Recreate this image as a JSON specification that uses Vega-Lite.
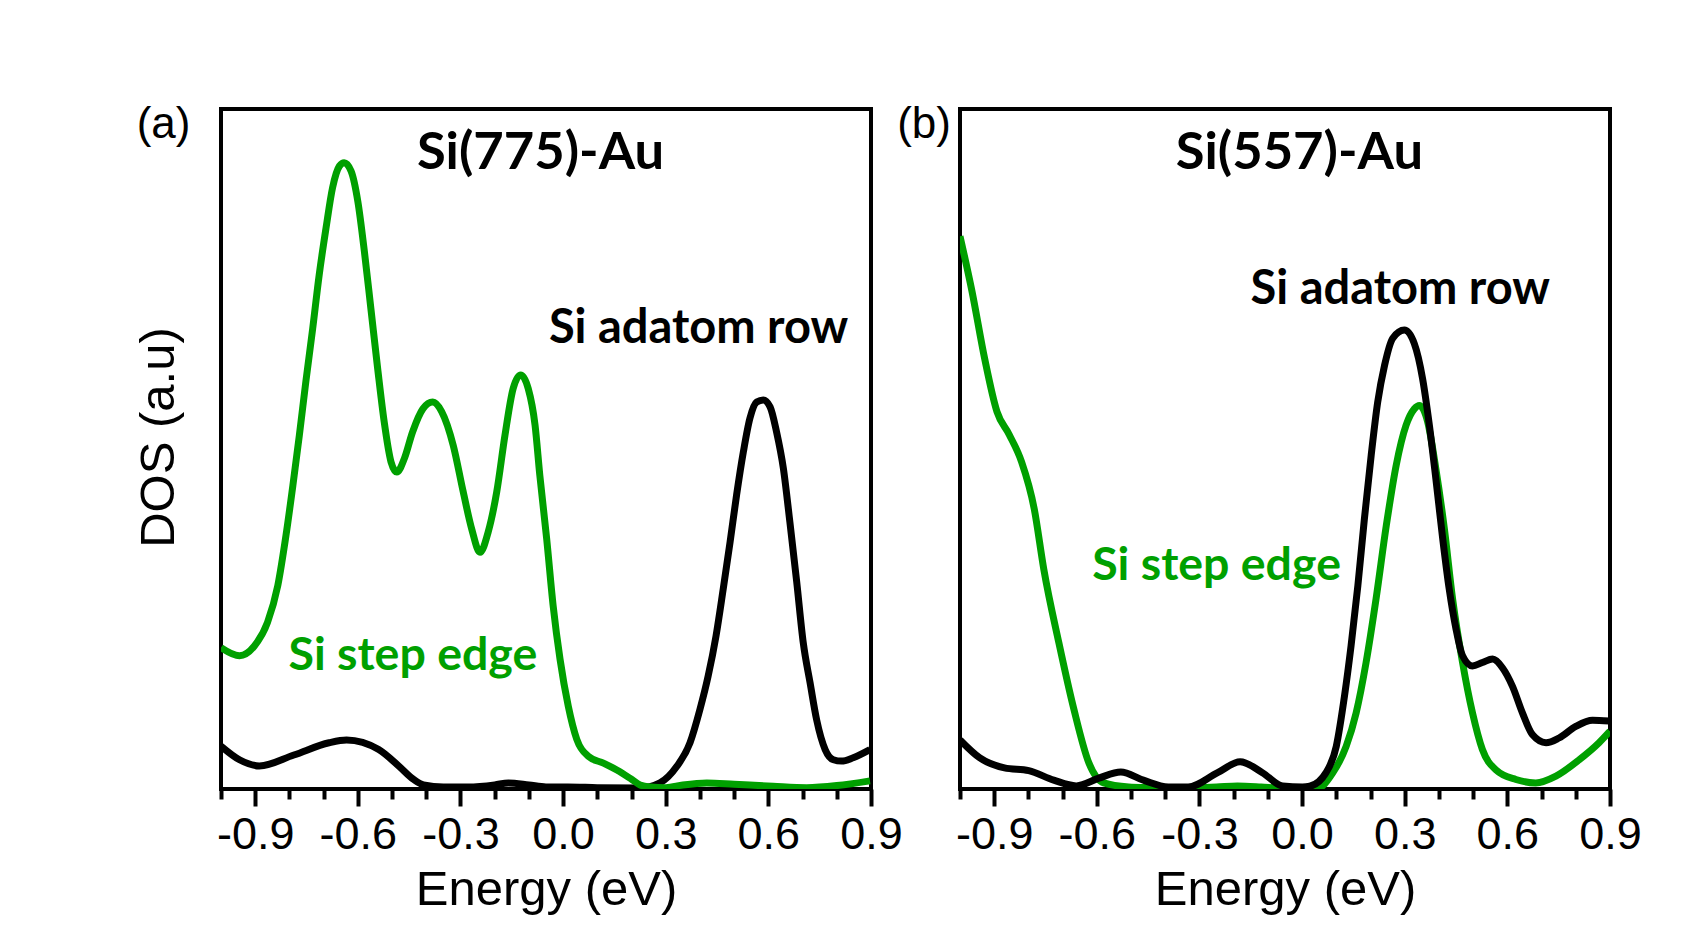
{
  "$schema": "https://vega.github.io/schema/vega-lite/v6.json",
  "background": "white",
  "padding": {"left": 132, "top": 101, "right": 5, "bottom": 5},
  "bounds": "flush",
  "spacing": 89,
  "config": {
    "view": {"stroke": "black", "strokeWidth": 4},
    "axis": {"labelFont": "Liberation Sans", "titleFont": "Liberation Sans", "labelColor": "black", "titleColor": "black", "titleFontWeight": "normal", "domain": false, "grid": false}
  },
  "datasets": {
    "curves": [
      {"panel": "a", "series": "adatom", "energy": -1.0, "dos": 6.3},
      {"panel": "a", "series": "adatom", "energy": -0.946, "dos": 4.3},
      {"panel": "a", "series": "adatom", "energy": -0.888, "dos": 3.4},
      {"panel": "a", "series": "adatom", "energy": -0.787, "dos": 5.0},
      {"panel": "a", "series": "adatom", "energy": -0.684, "dos": 6.8},
      {"panel": "a", "series": "adatom", "energy": -0.633, "dos": 7.2},
      {"panel": "a", "series": "adatom", "energy": -0.539, "dos": 5.8},
      {"panel": "a", "series": "adatom", "energy": -0.481, "dos": 3.4},
      {"panel": "a", "series": "adatom", "energy": -0.437, "dos": 1.4},
      {"panel": "a", "series": "adatom", "energy": -0.408, "dos": 0.6},
      {"panel": "a", "series": "adatom", "energy": -0.35, "dos": 0.3},
      {"panel": "a", "series": "adatom", "energy": -0.278, "dos": 0.3},
      {"panel": "a", "series": "adatom", "energy": -0.2, "dos": 0.6},
      {"panel": "a", "series": "adatom", "energy": -0.16, "dos": 0.9},
      {"panel": "a", "series": "adatom", "energy": -0.1, "dos": 0.6},
      {"panel": "a", "series": "adatom", "energy": -0.05, "dos": 0.3},
      {"panel": "a", "series": "adatom", "energy": 0.014, "dos": 0.3},
      {"panel": "a", "series": "adatom", "energy": 0.1, "dos": 0.2},
      {"panel": "a", "series": "adatom", "energy": 0.225, "dos": 0.15},
      {"panel": "a", "series": "adatom", "energy": 0.283, "dos": 0.9},
      {"panel": "a", "series": "adatom", "energy": 0.332, "dos": 3.3},
      {"panel": "a", "series": "adatom", "energy": 0.371, "dos": 6.8},
      {"panel": "a", "series": "adatom", "energy": 0.4, "dos": 11.7},
      {"panel": "a", "series": "adatom", "energy": 0.424, "dos": 16.6},
      {"panel": "a", "series": "adatom", "energy": 0.447, "dos": 22.5},
      {"panel": "a", "series": "adatom", "energy": 0.468, "dos": 29.4},
      {"panel": "a", "series": "adatom", "energy": 0.488, "dos": 36.3},
      {"panel": "a", "series": "adatom", "energy": 0.507, "dos": 43.2},
      {"panel": "a", "series": "adatom", "energy": 0.527, "dos": 49.6},
      {"panel": "a", "series": "adatom", "energy": 0.546, "dos": 54.5},
      {"panel": "a", "series": "adatom", "energy": 0.566, "dos": 56.9},
      {"panel": "a", "series": "adatom", "energy": 0.585, "dos": 57.2},
      {"panel": "a", "series": "adatom", "energy": 0.605, "dos": 56.2},
      {"panel": "a", "series": "adatom", "energy": 0.624, "dos": 52.5},
      {"panel": "a", "series": "adatom", "energy": 0.644, "dos": 47.1},
      {"panel": "a", "series": "adatom", "energy": 0.663, "dos": 39.2},
      {"panel": "a", "series": "adatom", "energy": 0.683, "dos": 30.4},
      {"panel": "a", "series": "adatom", "energy": 0.702, "dos": 21.5},
      {"panel": "a", "series": "adatom", "energy": 0.722, "dos": 15.6},
      {"panel": "a", "series": "adatom", "energy": 0.741, "dos": 10.2},
      {"panel": "a", "series": "adatom", "energy": 0.766, "dos": 5.8},
      {"panel": "a", "series": "adatom", "energy": 0.79, "dos": 4.3},
      {"panel": "a", "series": "adatom", "energy": 0.814, "dos": 4.1},
      {"panel": "a", "series": "adatom", "energy": 0.848, "dos": 4.6},
      {"panel": "a", "series": "adatom", "energy": 0.897, "dos": 5.8},

      {"panel": "a", "series": "step", "energy": -1.0, "dos": 20.8},
      {"panel": "a", "series": "step", "energy": -0.946, "dos": 19.6},
      {"panel": "a", "series": "step", "energy": -0.903, "dos": 21.0},
      {"panel": "a", "series": "step", "energy": -0.864, "dos": 24.5},
      {"panel": "a", "series": "step", "energy": -0.834, "dos": 29.9},
      {"panel": "a", "series": "step", "energy": -0.81, "dos": 37.3},
      {"panel": "a", "series": "step", "energy": -0.79, "dos": 44.6},
      {"panel": "a", "series": "step", "energy": -0.771, "dos": 52.0},
      {"panel": "a", "series": "step", "energy": -0.752, "dos": 59.9},
      {"panel": "a", "series": "step", "energy": -0.732, "dos": 67.7},
      {"panel": "a", "series": "step", "energy": -0.713, "dos": 75.6},
      {"panel": "a", "series": "step", "energy": -0.693, "dos": 82.5},
      {"panel": "a", "series": "step", "energy": -0.674, "dos": 88.4},
      {"panel": "a", "series": "step", "energy": -0.654, "dos": 91.6},
      {"panel": "a", "series": "step", "energy": -0.64, "dos": 92.1},
      {"panel": "a", "series": "step", "energy": -0.62, "dos": 90.9},
      {"panel": "a", "series": "step", "energy": -0.6, "dos": 86.4},
      {"panel": "a", "series": "step", "energy": -0.581, "dos": 79.1},
      {"panel": "a", "series": "step", "energy": -0.562, "dos": 70.7},
      {"panel": "a", "series": "step", "energy": -0.542, "dos": 61.8},
      {"panel": "a", "series": "step", "energy": -0.523, "dos": 54.0},
      {"panel": "a", "series": "step", "energy": -0.503, "dos": 48.1},
      {"panel": "a", "series": "step", "energy": -0.486, "dos": 46.6},
      {"panel": "a", "series": "step", "energy": -0.464, "dos": 48.6},
      {"panel": "a", "series": "step", "energy": -0.44, "dos": 52.5},
      {"panel": "a", "series": "step", "energy": -0.41, "dos": 55.9},
      {"panel": "a", "series": "step", "energy": -0.381, "dos": 56.9},
      {"panel": "a", "series": "step", "energy": -0.355, "dos": 55.5},
      {"panel": "a", "series": "step", "energy": -0.321, "dos": 50.5},
      {"panel": "a", "series": "step", "energy": -0.292, "dos": 43.7},
      {"panel": "a", "series": "step", "energy": -0.267, "dos": 38.2},
      {"panel": "a", "series": "step", "energy": -0.243, "dos": 34.8},
      {"panel": "a", "series": "step", "energy": -0.219, "dos": 37.8},
      {"panel": "a", "series": "step", "energy": -0.194, "dos": 43.7},
      {"panel": "a", "series": "step", "energy": -0.17, "dos": 52.0},
      {"panel": "a", "series": "step", "energy": -0.146, "dos": 58.9},
      {"panel": "a", "series": "step", "energy": -0.124, "dos": 60.9},
      {"panel": "a", "series": "step", "energy": -0.102, "dos": 58.9},
      {"panel": "a", "series": "step", "energy": -0.082, "dos": 53.5},
      {"panel": "a", "series": "step", "energy": -0.068, "dos": 46.1},
      {"panel": "a", "series": "step", "energy": -0.048, "dos": 36.8},
      {"panel": "a", "series": "step", "energy": -0.029, "dos": 26.9},
      {"panel": "a", "series": "step", "energy": -0.009, "dos": 19.1},
      {"panel": "a", "series": "step", "energy": 0.015, "dos": 12.2},
      {"panel": "a", "series": "step", "energy": 0.04, "dos": 7.3},
      {"panel": "a", "series": "step", "energy": 0.074, "dos": 4.8},
      {"panel": "a", "series": "step", "energy": 0.118, "dos": 3.8},
      {"panel": "a", "series": "step", "energy": 0.157, "dos": 2.8},
      {"panel": "a", "series": "step", "energy": 0.201, "dos": 1.4},
      {"panel": "a", "series": "step", "energy": 0.225, "dos": 0.6},
      {"panel": "a", "series": "step", "energy": 0.254, "dos": 0.3},
      {"panel": "a", "series": "step", "energy": 0.3, "dos": 0.2},
      {"panel": "a", "series": "step", "energy": 0.35, "dos": 0.6},
      {"panel": "a", "series": "step", "energy": 0.42, "dos": 0.9},
      {"panel": "a", "series": "step", "energy": 0.5, "dos": 0.7},
      {"panel": "a", "series": "step", "energy": 0.614, "dos": 0.4},
      {"panel": "a", "series": "step", "energy": 0.712, "dos": 0.2},
      {"panel": "a", "series": "step", "energy": 0.8, "dos": 0.5},
      {"panel": "a", "series": "step", "energy": 0.897, "dos": 1.2},

      {"panel": "b", "series": "adatom", "energy": -1.0, "dos": 7.2},
      {"panel": "b", "series": "adatom", "energy": -0.943, "dos": 4.6},
      {"panel": "b", "series": "adatom", "energy": -0.87, "dos": 3.1},
      {"panel": "b", "series": "adatom", "energy": -0.799, "dos": 2.7},
      {"panel": "b", "series": "adatom", "energy": -0.726, "dos": 1.3},
      {"panel": "b", "series": "adatom", "energy": -0.66, "dos": 0.45},
      {"panel": "b", "series": "adatom", "energy": -0.594, "dos": 1.6},
      {"panel": "b", "series": "adatom", "energy": -0.53, "dos": 2.5},
      {"panel": "b", "series": "adatom", "energy": -0.464, "dos": 1.3},
      {"panel": "b", "series": "adatom", "energy": -0.391, "dos": 0.3},
      {"panel": "b", "series": "adatom", "energy": -0.333, "dos": 0.3},
      {"panel": "b", "series": "adatom", "energy": -0.247, "dos": 2.4},
      {"panel": "b", "series": "adatom", "energy": -0.181, "dos": 4.0},
      {"panel": "b", "series": "adatom", "energy": -0.116, "dos": 2.4},
      {"panel": "b", "series": "adatom", "energy": -0.057, "dos": 0.45},
      {"panel": "b", "series": "adatom", "energy": 0.001, "dos": 0.3},
      {"panel": "b", "series": "adatom", "energy": 0.022, "dos": 0.4},
      {"panel": "b", "series": "adatom", "energy": 0.07, "dos": 2.4},
      {"panel": "b", "series": "adatom", "energy": 0.1, "dos": 6.3},
      {"panel": "b", "series": "adatom", "energy": 0.124, "dos": 13.7},
      {"panel": "b", "series": "adatom", "energy": 0.143, "dos": 21.0},
      {"panel": "b", "series": "adatom", "energy": 0.163, "dos": 29.9},
      {"panel": "b", "series": "adatom", "energy": 0.182, "dos": 39.7},
      {"panel": "b", "series": "adatom", "energy": 0.202, "dos": 49.1},
      {"panel": "b", "series": "adatom", "energy": 0.221, "dos": 56.9},
      {"panel": "b", "series": "adatom", "energy": 0.241, "dos": 62.3},
      {"panel": "b", "series": "adatom", "energy": 0.265, "dos": 66.3},
      {"panel": "b", "series": "adatom", "energy": 0.299, "dos": 67.5},
      {"panel": "b", "series": "adatom", "energy": 0.328, "dos": 65.5},
      {"panel": "b", "series": "adatom", "energy": 0.352, "dos": 60.4},
      {"panel": "b", "series": "adatom", "energy": 0.372, "dos": 53.5},
      {"panel": "b", "series": "adatom", "energy": 0.391, "dos": 45.6},
      {"panel": "b", "series": "adatom", "energy": 0.411, "dos": 36.8},
      {"panel": "b", "series": "adatom", "energy": 0.43, "dos": 29.4},
      {"panel": "b", "series": "adatom", "energy": 0.45, "dos": 23.5},
      {"panel": "b", "series": "adatom", "energy": 0.469, "dos": 19.6},
      {"panel": "b", "series": "adatom", "energy": 0.498, "dos": 18.1},
      {"panel": "b", "series": "adatom", "energy": 0.527, "dos": 18.6},
      {"panel": "b", "series": "adatom", "energy": 0.557, "dos": 19.1},
      {"panel": "b", "series": "adatom", "energy": 0.586, "dos": 17.8},
      {"panel": "b", "series": "adatom", "energy": 0.615, "dos": 15.1},
      {"panel": "b", "series": "adatom", "energy": 0.644, "dos": 11.2},
      {"panel": "b", "series": "adatom", "energy": 0.673, "dos": 8.0},
      {"panel": "b", "series": "adatom", "energy": 0.713, "dos": 6.8},
      {"panel": "b", "series": "adatom", "energy": 0.751, "dos": 7.5},
      {"panel": "b", "series": "adatom", "energy": 0.8, "dos": 9.2},
      {"panel": "b", "series": "adatom", "energy": 0.849, "dos": 10.1},
      {"panel": "b", "series": "adatom", "energy": 0.897, "dos": 10.0},

      {"panel": "b", "series": "step", "energy": -1.0, "dos": 81.3},
      {"panel": "b", "series": "step", "energy": -0.965, "dos": 73.2},
      {"panel": "b", "series": "step", "energy": -0.928, "dos": 63.3},
      {"panel": "b", "series": "step", "energy": -0.892, "dos": 55.5},
      {"panel": "b", "series": "step", "energy": -0.856, "dos": 52.1},
      {"panel": "b", "series": "step", "energy": -0.82, "dos": 48.1},
      {"panel": "b", "series": "step", "energy": -0.783, "dos": 41.2},
      {"panel": "b", "series": "step", "energy": -0.755, "dos": 32.3},
      {"panel": "b", "series": "step", "energy": -0.711, "dos": 21.5},
      {"panel": "b", "series": "step", "energy": -0.667, "dos": 11.7},
      {"panel": "b", "series": "step", "energy": -0.623, "dos": 3.8},
      {"panel": "b", "series": "step", "energy": -0.58, "dos": 0.9},
      {"panel": "b", "series": "step", "energy": -0.507, "dos": 0.3},
      {"panel": "b", "series": "step", "energy": -0.45, "dos": 0.2},
      {"panel": "b", "series": "step", "energy": -0.362, "dos": 0.15},
      {"panel": "b", "series": "step", "energy": -0.25, "dos": 0.3},
      {"panel": "b", "series": "step", "energy": -0.189, "dos": 0.45},
      {"panel": "b", "series": "step", "energy": -0.12, "dos": 0.3},
      {"panel": "b", "series": "step", "energy": -0.072, "dos": 0.15},
      {"panel": "b", "series": "step", "energy": 0.041, "dos": 0.0},
      {"panel": "b", "series": "step", "energy": 0.09, "dos": 2.4},
      {"panel": "b", "series": "step", "energy": 0.129, "dos": 6.3},
      {"panel": "b", "series": "step", "energy": 0.158, "dos": 11.2},
      {"panel": "b", "series": "step", "energy": 0.187, "dos": 18.6},
      {"panel": "b", "series": "step", "energy": 0.216, "dos": 27.9},
      {"panel": "b", "series": "step", "energy": 0.246, "dos": 38.7},
      {"panel": "b", "series": "step", "energy": 0.275, "dos": 47.6},
      {"panel": "b", "series": "step", "energy": 0.304, "dos": 53.5},
      {"panel": "b", "series": "step", "energy": 0.328, "dos": 55.9},
      {"panel": "b", "series": "step", "energy": 0.343, "dos": 56.4},
      {"panel": "b", "series": "step", "energy": 0.367, "dos": 54.0},
      {"panel": "b", "series": "step", "energy": 0.391, "dos": 47.1},
      {"panel": "b", "series": "step", "energy": 0.416, "dos": 38.2},
      {"panel": "b", "series": "step", "energy": 0.44, "dos": 27.9},
      {"panel": "b", "series": "step", "energy": 0.469, "dos": 18.6},
      {"panel": "b", "series": "step", "energy": 0.498, "dos": 11.2},
      {"panel": "b", "series": "step", "energy": 0.527, "dos": 5.8},
      {"panel": "b", "series": "step", "energy": 0.567, "dos": 2.8},
      {"panel": "b", "series": "step", "energy": 0.625, "dos": 1.4},
      {"panel": "b", "series": "step", "energy": 0.683, "dos": 0.9},
      {"panel": "b", "series": "step", "energy": 0.742, "dos": 1.9},
      {"panel": "b", "series": "step", "energy": 0.81, "dos": 4.3},
      {"panel": "b", "series": "step", "energy": 0.868, "dos": 6.8},
      {"panel": "b", "series": "step", "energy": 0.9, "dos": 8.5}
    ],
    "labels": [
      {"panel": "a", "role": "title", "label": "Si(775)-Au", "energy": -0.066, "dos": 91.2},
      {"panel": "a", "role": "adatom", "label": "Si adatom row", "energy": 0.396, "dos": 65.6},
      {"panel": "a", "role": "step", "label": "Si step edge", "energy": -0.439, "dos": 17.5},
      {"panel": "a", "role": "letter", "label": "(a)", "energy": -1.168, "dos": 95.7},
      {"panel": "b", "role": "title", "label": "Si(557)-Au", "energy": -0.008, "dos": 91.2},
      {"panel": "b", "role": "adatom", "label": "Si adatom row", "energy": 0.287, "dos": 71.3},
      {"panel": "b", "role": "step", "label": "Si step edge", "energy": -0.25, "dos": 30.8},
      {"panel": "b", "role": "letter", "label": "(b)", "energy": -1.105, "dos": 95.7}
    ]
  },
  "hconcat": [
    {
      "width": 650,
      "height": 680,
      "encoding": {
        "x": {"field": "energy", "type": "quantitative", "scale": {"domain": [-1, 0.9], "nice": false, "zero": false},
          "axis": {"title": "Energy (eV)", "titleFontSize": 49, "titlePadding": 8,
            "values": [-1, -0.9, -0.8, -0.7, -0.6, -0.5, -0.4, -0.3, -0.2, -0.1, 0, 0.1, 0.2, 0.3, 0.4, 0.5, 0.6, 0.7, 0.8, 0.9],
            "labelExpr": "abs(round(datum.value*10)) % 3 === 0 ? (datum.value < -0.01 ? '-' : '') + format(abs(datum.value), '.1f') : ''",
            "tickSize": {"condition": {"test": "abs(round(datum.value*10)) % 3 === 0", "value": 17}, "value": 10},
            "tickWidth": 4, "tickColor": "black", "labelFontSize": 45, "labelPadding": 6, "labelFlush": false, "labelOverlap": false}},
        "y": {"field": "dos", "type": "quantitative", "scale": {"domain": [0, 100], "nice": false, "zero": false},
          "axis": {"title": "DOS (a.u)", "titleFontSize": 49, "titlePadding": 38, "titleY": 328, "labels": false, "ticks": false}}
      },
      "layer": [
        {"data": {"name": "curves"}, "transform": [{"filter": "datum.panel === 'a' && datum.series === 'adatom'"}],
          "mark": {"type": "line", "interpolate": "monotone", "strokeWidth": 7, "color": "black", "clip": true}},
        {"data": {"name": "curves"}, "transform": [{"filter": "datum.panel === 'a' && datum.series === 'step'"}],
          "mark": {"type": "line", "interpolate": "monotone", "strokeWidth": 7, "color": "#00A000", "clip": true}},
        {"data": {"name": "labels"}, "transform": [{"filter": "datum.panel === 'a' && datum.role === 'title'"}],
          "mark": {"type": "text", "font": "Lato", "fontWeight": "bold", "fontSize": 52.5, "color": "black", "align": "center", "baseline": "alphabetic"},
          "encoding": {"text": {"field": "label"}}},
        {"data": {"name": "labels"}, "transform": [{"filter": "datum.panel === 'a' && datum.role === 'adatom'"}],
          "mark": {"type": "text", "font": "Lato", "fontWeight": "bold", "fontSize": 47, "color": "black", "align": "center", "baseline": "alphabetic"},
          "encoding": {"text": {"field": "label"}}},
        {"data": {"name": "labels"}, "transform": [{"filter": "datum.panel === 'a' && datum.role === 'step'"}],
          "mark": {"type": "text", "font": "Lato", "fontWeight": "bold", "fontSize": 46.5, "color": "#00A000", "align": "center", "baseline": "alphabetic"},
          "encoding": {"text": {"field": "label"}}},
        {"data": {"name": "labels"}, "transform": [{"filter": "datum.panel === 'a' && datum.role === 'letter'"}],
          "mark": {"type": "text", "font": "Liberation Sans", "fontSize": 44, "color": "black", "align": "center", "baseline": "alphabetic"},
          "encoding": {"text": {"field": "label"}}}
      ]
    },
    {
      "width": 650,
      "height": 680,
      "encoding": {
        "x": {"field": "energy", "type": "quantitative", "scale": {"domain": [-1, 0.9], "nice": false, "zero": false},
          "axis": {"title": "Energy (eV)", "titleFontSize": 49, "titlePadding": 8,
            "values": [-1, -0.9, -0.8, -0.7, -0.6, -0.5, -0.4, -0.3, -0.2, -0.1, 0, 0.1, 0.2, 0.3, 0.4, 0.5, 0.6, 0.7, 0.8, 0.9],
            "labelExpr": "abs(round(datum.value*10)) % 3 === 0 ? (datum.value < -0.01 ? '-' : '') + format(abs(datum.value), '.1f') : ''",
            "tickSize": {"condition": {"test": "abs(round(datum.value*10)) % 3 === 0", "value": 17}, "value": 10},
            "tickWidth": 4, "tickColor": "black", "labelFontSize": 45, "labelPadding": 6, "labelFlush": false, "labelOverlap": false}},
        "y": {"field": "dos", "type": "quantitative", "scale": {"domain": [0, 100], "nice": false, "zero": false}, "axis": null}
      },
      "layer": [
        {"data": {"name": "curves"}, "transform": [{"filter": "datum.panel === 'b' && datum.series === 'step'"}],
          "mark": {"type": "line", "interpolate": "monotone", "strokeWidth": 7, "color": "#00A000", "clip": true}},
        {"data": {"name": "curves"}, "transform": [{"filter": "datum.panel === 'b' && datum.series === 'adatom'"}],
          "mark": {"type": "line", "interpolate": "monotone", "strokeWidth": 7, "color": "black", "clip": true}},
        {"data": {"name": "labels"}, "transform": [{"filter": "datum.panel === 'b' && datum.role === 'title'"}],
          "mark": {"type": "text", "font": "Lato", "fontWeight": "bold", "fontSize": 52.5, "color": "black", "align": "center", "baseline": "alphabetic"},
          "encoding": {"text": {"field": "label"}}},
        {"data": {"name": "labels"}, "transform": [{"filter": "datum.panel === 'b' && datum.role === 'adatom'"}],
          "mark": {"type": "text", "font": "Lato", "fontWeight": "bold", "fontSize": 47, "color": "black", "align": "center", "baseline": "alphabetic"},
          "encoding": {"text": {"field": "label"}}},
        {"data": {"name": "labels"}, "transform": [{"filter": "datum.panel === 'b' && datum.role === 'step'"}],
          "mark": {"type": "text", "font": "Lato", "fontWeight": "bold", "fontSize": 46.5, "color": "#00A000", "align": "center", "baseline": "alphabetic"},
          "encoding": {"text": {"field": "label"}}},
        {"data": {"name": "labels"}, "transform": [{"filter": "datum.panel === 'b' && datum.role === 'letter'"}],
          "mark": {"type": "text", "font": "Liberation Sans", "fontSize": 44, "color": "black", "align": "center", "baseline": "alphabetic"},
          "encoding": {"text": {"field": "label"}}}
      ]
    }
  ]
}
